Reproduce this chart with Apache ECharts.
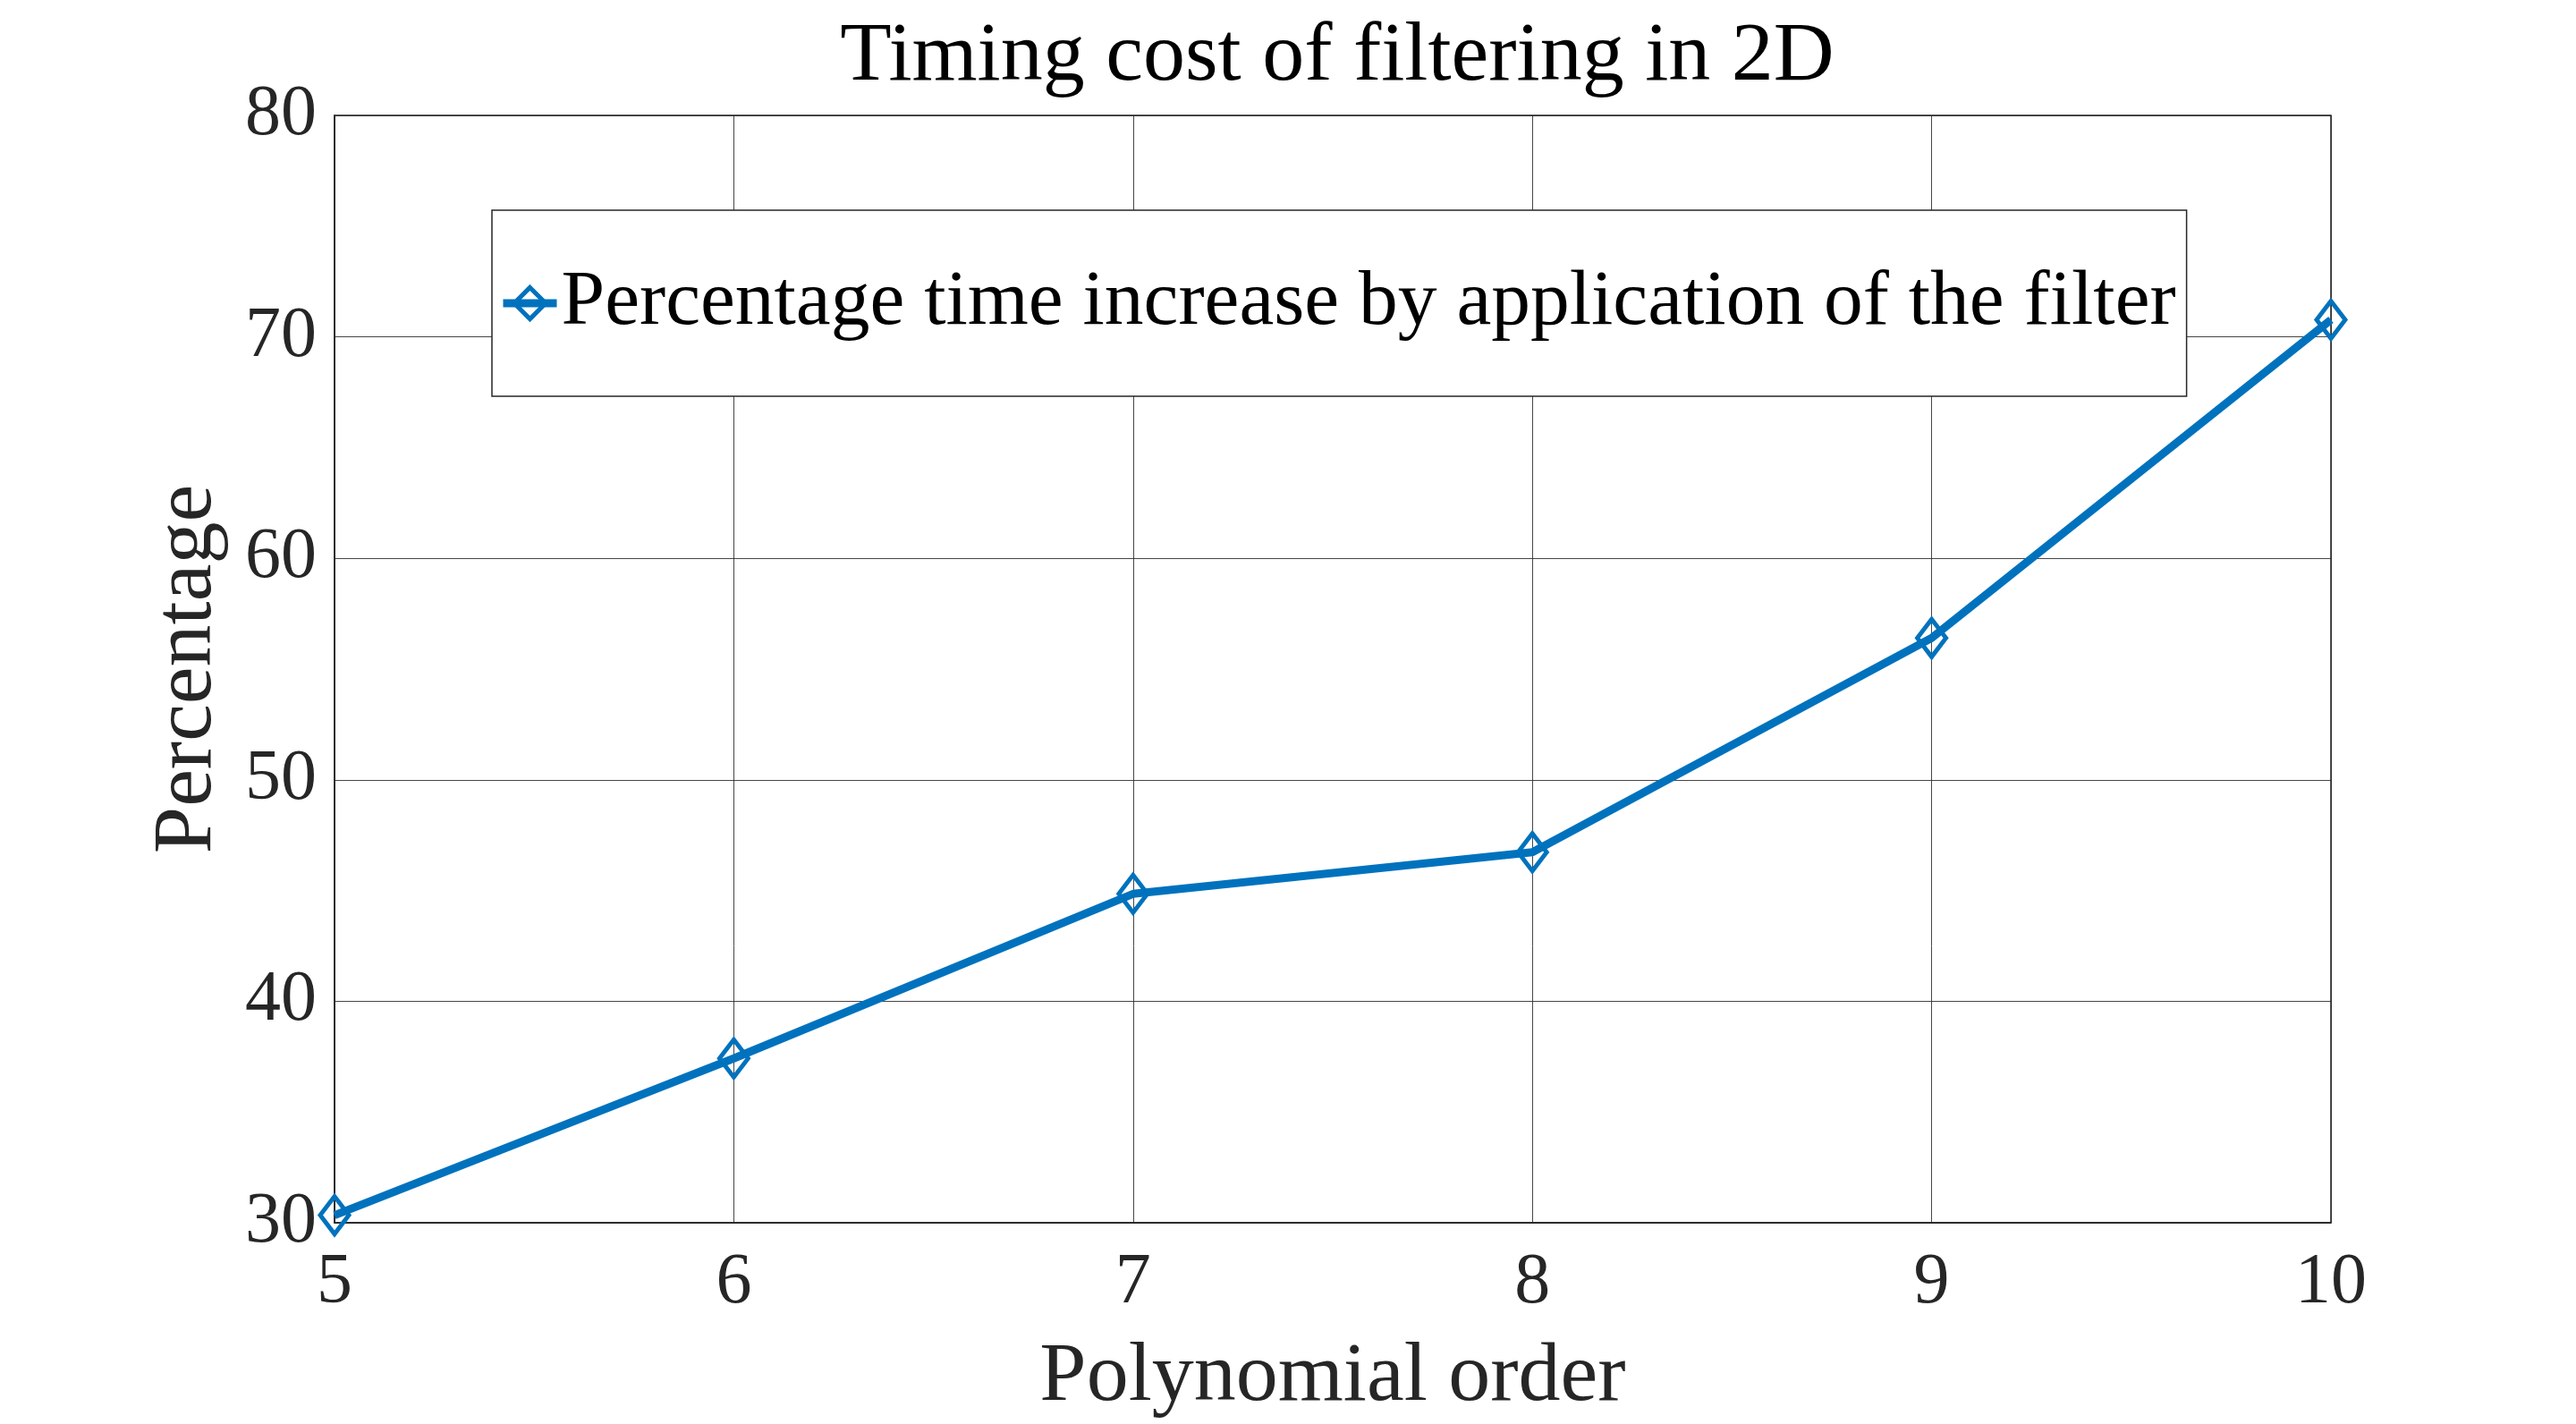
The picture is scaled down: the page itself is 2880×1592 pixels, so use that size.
<!DOCTYPE html>
<html>
<head>
<meta charset="utf-8">
<script src="https://cdn.jsdelivr.net/npm/echarts@6/dist/echarts.min.js"></script>
<style>
html,body{margin:0;padding:0;background:#fff;}
#chart{width:2880px;height:1592px;}
</style>
</head>
<body>
<div id="chart"></div>
<script>
const polynomialOrder = [5, 6, 7, 8, 9, 10];
const percentageIncrease = [30.34, 37.42, 44.85, 46.73, 56.4, 70.77];
const xTicks = [5, 6, 7, 8, 9, 10];
const yTicks = [30, 40, 50, 60, 70, 80];
const titleText = 'Timing cost of filtering in 2D';
const seriesName = 'Percentage time increase by application of the filter';
const xName = 'Polynomial order';
const yName = 'Percentage';

const FONT = 'Liberation Serif';
const BLUE = '#0072BD';
const chart = echarts.init(document.getElementById('chart'), null, {renderer: 'canvas'});
chart.setOption({
  backgroundColor: '#fff',
  animation: false,
  title: {
    text: titleText,
    left: 1490, textAlign: 'center',
    top: 12,
    textStyle: {fontFamily: FONT, fontSize: 94, fontWeight: 'normal', color: '#000'}
  },
  grid: {
    left: 374, top: 129, right: 274, bottom: 224,
    show: true, borderColor: '#262626', borderWidth: 1.5, backgroundColor: '#fff'
  },
  legend: {
    left: 550, top: 235,
    padding: [59, 12, 59, 8],
    backgroundColor: '#fff',
    borderColor: '#262626', borderWidth: 1.5,
    itemWidth: 60, itemHeight: 44,
    lineStyle: {width: 9, color: BLUE},
    itemStyle: {color: 'rgba(255,255,255,0)', borderColor: BLUE, borderWidth: 5},
    textStyle: {fontFamily: FONT, fontSize: 87.5, color: '#000', lineHeight: 90},
    data: [seriesName]
  },
  xAxis: {
    type: 'value', min: 5, max: 10, interval: 1,
    name: xName, nameLocation: 'middle', nameGap: 126,
    nameTextStyle: {fontFamily: FONT, fontSize: 94, color: '#262626'},
    axisLine: {show: true, lineStyle: {color: '#262626', width: 1.5}},
    axisTick: {show: false},
    axisLabel: {fontFamily: FONT, fontSize: 80, color: '#262626', margin: 28,
      formatter: v => xTicks.includes(v) ? String(v) : ''},
    splitLine: {show: true, lineStyle: {color: '#262626', width: 1, opacity: 0.85}}
  },
  yAxis: {
    type: 'value', min: 30, max: 80, interval: 10,
    name: yName, nameLocation: 'middle', nameGap: 117,
    nameTextStyle: {fontFamily: FONT, fontSize: 94, color: '#262626'},
    axisLine: {show: true, lineStyle: {color: '#262626', width: 1.5}},
    axisTick: {show: false},
    axisLabel: {fontFamily: FONT, fontSize: 80, color: '#262626', margin: 20,
      formatter: v => yTicks.includes(v) ? String(v) : ''},
    splitLine: {show: true, lineStyle: {color: '#262626', width: 1, opacity: 0.85}}
  },
  series: [{
    name: seriesName,
    type: 'line',
    data: polynomialOrder.map((x, i) => [x, percentageIncrease[i]]),
    color: BLUE,
    symbol: 'diamond',
    symbolSize: [32, 42],
    showAllSymbol: true,
    clip: false,
    lineStyle: {color: BLUE, width: 9},
    itemStyle: {color: 'rgba(255,255,255,0)', borderColor: BLUE, borderWidth: 5},
    z: 3
  }]
});
</script>
</body>
</html>
